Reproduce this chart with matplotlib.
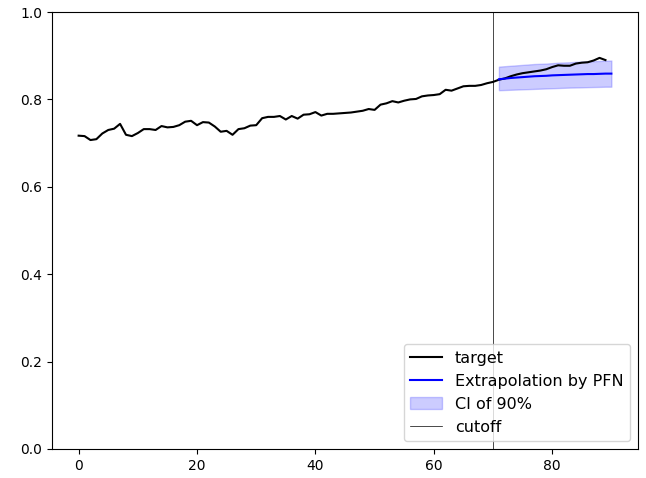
#
# PURPOSE: target curve with PFN extrapolation and 90% CI after cutoff
#
import matplotlib
matplotlib.use("Agg")
import matplotlib.pyplot as plt

# target values, one per step (0..89)
target = [0.717, 0.716, 0.707, 0.709, 0.722, 0.730, 0.733, 0.744, 0.719, 0.716,
          0.723, 0.732, 0.732, 0.730, 0.739, 0.736, 0.737, 0.741, 0.749, 0.751,
          0.741, 0.748, 0.747, 0.738, 0.726, 0.728, 0.719, 0.732, 0.734, 0.740,
          0.741, 0.757, 0.760, 0.760, 0.762, 0.754, 0.762, 0.756, 0.765, 0.766,
          0.771, 0.763, 0.767, 0.767, 0.768, 0.769, 0.770, 0.772, 0.774, 0.778,
          0.776, 0.788, 0.791, 0.796, 0.793, 0.797, 0.800, 0.801, 0.807, 0.809,
          0.810, 0.812, 0.822, 0.820, 0.825, 0.830, 0.831, 0.831, 0.833, 0.837,
          0.840, 0.845, 0.848, 0.853, 0.857, 0.860, 0.862, 0.864, 0.866, 0.869,
          0.874, 0.878, 0.877, 0.877, 0.882, 0.884, 0.885, 0.889, 0.895, 0.890]
steps = list(range(len(target)))

cutoff = 70

# extrapolation after the cutoff (steps 71..90)
pred_steps = list(range(71, 91))
pred_mid = [0.846, 0.8475, 0.849, 0.850, 0.851, 0.852, 0.853, 0.8535, 0.854, 0.855,
            0.8555, 0.856, 0.8565, 0.857, 0.8575, 0.858, 0.858, 0.8585, 0.859, 0.859]
pred_low = [0.821, 0.8215, 0.822, 0.8225, 0.823, 0.8235, 0.824, 0.8245, 0.825, 0.8255,
            0.826, 0.8265, 0.827, 0.8272, 0.8275, 0.828, 0.8283, 0.8286, 0.829, 0.829]
pred_high = [0.875, 0.876, 0.877, 0.878, 0.879, 0.880, 0.881, 0.8815, 0.882, 0.883,
             0.884, 0.8845, 0.885, 0.886, 0.8865, 0.887, 0.8875, 0.888, 0.8885, 0.889]

fig = plt.figure(figsize=(6.46, 4.78), dpi=100)
ax = fig.add_axes([52 / 646, 29 / 478, 586 / 646, 437 / 478])

ax.plot(steps, target, color="black", label="target")
ax.plot(pred_steps, pred_mid, color="blue", label="Extrapolation by PFN")
ax.fill_between(pred_steps, pred_low, pred_high, color="blue", alpha=0.2, label="CI of 90%")
ax.axvline(cutoff, color="black", linewidth=0.5, label="cutoff")

ax.set_ylim(0, 1)
ax.legend(loc="lower right", fontsize=11.5)

fig.savefig("out.png", dpi=100)
